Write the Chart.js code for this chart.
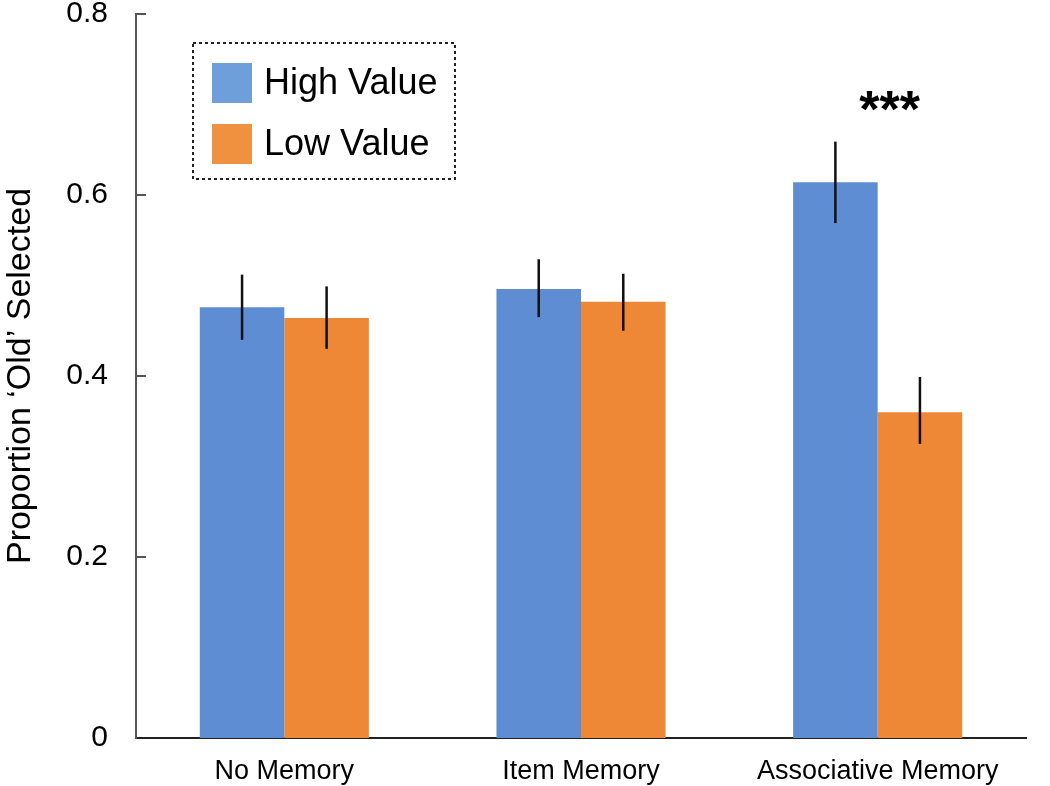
<!DOCTYPE html>
<html>
<head>
<meta charset="utf-8">
<script src="https://cdn.jsdelivr.net/npm/chart.js@4.4.0/dist/chart.umd.min.js"></script>
<style>
  html, body { margin: 0; padding: 0; background: #fff; }
  #wrap { width: 1050px; height: 786px; }
</style>
</head>
<body>
<div id="wrap"><canvas id="myChart" width="1050" height="786"></canvas></div>
<script>
const categories = ["No Memory", "Item Memory", "Associative Memory"];
const highValue = [0.476, 0.496, 0.614];
const lowValue = [0.464, 0.482, 0.360];
// error bar ends
const highErrLow = [0.440, 0.465, 0.569];
const highErrHigh = [0.512, 0.529, 0.659];
const lowErrLow = [0.430, 0.450, 0.325];
const lowErrHigh = [0.499, 0.513, 0.399];
const yTicks = [0, 0.2, 0.4, 0.6, 0.8];

const font = "'Liberation Sans', Arial, sans-serif";

// error bars, inward ticks, legend box and stars
const extras = {
    id: 'extras',
    afterDatasetsDraw(chart) {
        const ctx = chart.ctx;
        const y = chart.scales.y;
        const x = chart.scales.x;
        const errs = [[highErrLow, highErrHigh], [lowErrLow, lowErrHigh]];

        ctx.save();
        ctx.strokeStyle = '#111';
        ctx.lineWidth = 2.5;
        errs.forEach((e, d) => {
            chart.getDatasetMeta(d).data.forEach((bar, i) => {
                ctx.beginPath();
                ctx.moveTo(bar.x, y.getPixelForValue(e[0][i]));
                ctx.lineTo(bar.x, y.getPixelForValue(e[1][i]));
                ctx.stroke();
            });
        });

        // small ticks pointing into the plot
        ctx.strokeStyle = '#555';
        ctx.lineWidth = 2;
        yTicks.slice(1).forEach(v => {
            const py = y.getPixelForValue(v);
            ctx.beginPath();
            ctx.moveTo(chart.chartArea.left, py);
            ctx.lineTo(chart.chartArea.left + 10, py);
            ctx.stroke();
        });

        // significance stars
        ctx.fillStyle = '#000';
        ctx.font = "bold 52px " + font;
        ctx.textAlign = 'center';
        ctx.textBaseline = 'middle';
        ctx.fillText('***', x.getPixelForValue(2) + 12, y.getPixelForValue(0.700) + 8);

        // legend
        ctx.setLineDash([3, 3]);
        ctx.strokeStyle = '#222';
        ctx.lineWidth = 2;
        ctx.strokeRect(193, 43, 262, 136);
        ctx.setLineDash([]);
        ctx.fillStyle = '#6f9fdb';
        ctx.fillRect(212, 63, 40, 40);
        ctx.fillStyle = '#ef913f';
        ctx.fillRect(212, 124, 40, 40);
        ctx.fillStyle = '#000';
        ctx.font = "36px " + font;
        ctx.textAlign = 'left';
        ctx.fillText('High Value', 264, 84);
        ctx.fillText('Low Value', 264, 145);
        ctx.restore();
    }
};

new Chart(document.getElementById("myChart").getContext("2d"), {
    type: 'bar',
    data: {
        labels: categories,
        datasets: [
            {
                label: "High Value",
                data: highValue,
                backgroundColor: '#5f8dd3',
                categoryPercentage: 0.57,
                barPercentage: 1.0
            },
            {
                label: "Low Value",
                data: lowValue,
                backgroundColor: '#ee8736',
                categoryPercentage: 0.57,
                barPercentage: 1.0
            }
        ]
    },
    options: {
        responsive: false,
        animation: false,
        layout: { padding: { top: 14, right: 24, left: 0, bottom: 0 } },
        plugins: {
            legend: { display: false },
            tooltip: { enabled: false }
        },
        scales: {
            x: {
                grid: { display: false, drawTicks: false },
                border: { color: '#222', width: 2 },
                ticks: {
                    color: '#000',
                    font: { family: font, size: 27 },
                    padding: 17,
                    maxRotation: 0,
                    autoSkip: false
                },
                afterFit: s => {
                    s.height = 48;
                    s.paddingLeft = 0;
                    s.paddingRight = 0;
                    s.paddingTop = 0;
                }
            },
            y: {
                min: 0,
                max: 0.8,
                afterBuildTicks: s => { s.ticks = yTicks.map(v => ({ value: v })); },
                grid: { display: false, drawTicks: false },
                border: { color: '#555', width: 2 },
                ticks: {
                    color: '#000',
                    font: { family: font, size: 30 },
                    padding: 28,
                    callback: v => v === 0 ? '0' : v.toFixed(1)
                },
                title: {
                    display: true,
                    text: "Proportion \u2018Old\u2019 Selected",
                    color: '#000',
                    font: { family: font, size: 34 },
                    padding: 0
                },
                afterFit: s => {
                    s.width = 136;
                    s.paddingTop = 0;
                    s.paddingBottom = 0;
                }
            }
        }
    },
    plugins: [extras]
});
</script>
</body>
</html>
